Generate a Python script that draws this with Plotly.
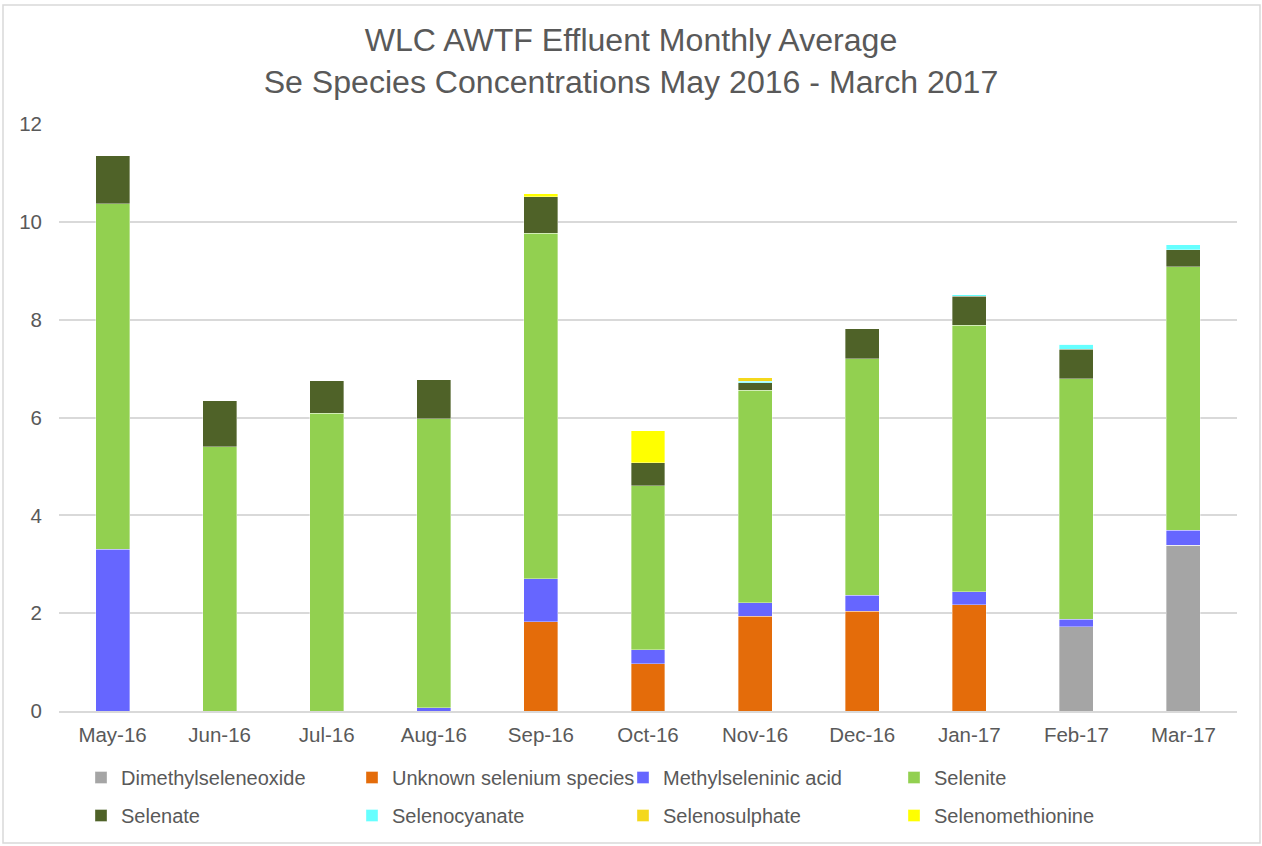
import plotly.graph_objects as go

months = ["May-16", "Jun-16", "Jul-16", "Aug-16", "Sep-16", "Oct-16",
          "Nov-16", "Dec-16", "Jan-17", "Feb-17", "Mar-17"]

dimethylseleneoxide = [0, 0, 0, 0, 0, 0, 0, 0, 0, 1.72, 3.39]
unknown_species     = [0, 0, 0, 0, 1.82, 0.97, 1.94, 2.04, 2.17, 0, 0]
methylseleninic     = [3.31, 0, 0, 0.07, 0.88, 0.28, 0.27, 0.33, 0.27, 0.16, 0.31]
selenite            = [7.06, 5.40, 6.09, 5.90, 7.07, 3.35, 4.35, 4.83, 5.45, 4.91, 5.38]
selenate            = [0.98, 0.94, 0.66, 0.80, 0.74, 0.47, 0.15, 0.61, 0.59, 0.61, 0.35]
selenocyanate       = [0, 0, 0, 0, 0, 0, 0.03, 0, 0.03, 0.10, 0.10]
selenosulphate      = [0, 0, 0, 0, 0, 0, 0.07, 0, 0, 0, 0]
selenomethionine    = [0, 0, 0, 0, 0.06, 0.66, 0, 0, 0, 0, 0]

series = [
    ("Dimethylseleneoxide", dimethylseleneoxide, "#A5A5A5", "legend"),
    ("Unknown selenium species", unknown_species, "#E46C0A", "legend"),
    ("Methylseleninic acid", methylseleninic, "#6666FF", "legend"),
    ("Selenite", selenite, "#92D050", "legend"),
    ("Selenate", selenate, "#4F6228", "legend2"),
    ("Selenocyanate", selenocyanate, "#66FFFF", "legend2"),
    ("Selenosulphate", selenosulphate, "#F4D81C", "legend2"),
    ("Selenomethionine", selenomethionine, "#FFFF00", "legend2"),
]

fig = go.Figure()
for name, vals, color, leg in series:
    fig.add_trace(go.Bar(
        x=months, y=vals, name=name, legend=leg,
        marker=dict(color=color, line=dict(color="rgba(255,255,255,0.6)", width=0.6)),
    ))

L, R, T, B = 59, 25, 124, 135
W, H = 1262, 846
pw, ph = W - L - R, H - T - B
FONT = "Liberation Sans, Arial, sans-serif"


def legend_cfg(top_px):
    return dict(
        orientation="h", traceorder="normal",
        x=(81 - L) / pw, xanchor="left",
        y=-(top_px - (H - B)) / ph, yanchor="top",
        entrywidth=226, entrywidthmode="pixels",
        font=dict(family=FONT, size=20, color="#595959"),
        itemwidth=30, bgcolor="rgba(0,0,0,0)",
    )


fig.update_layout(
    width=W, height=H,
    barmode="stack",
    bargap=0.683,
    plot_bgcolor="white",
    paper_bgcolor="white",
    margin=dict(l=L, r=R, t=T, b=B, autoexpand=False),
    font=dict(family=FONT, color="#595959", size=20),
    title=dict(
        text="WLC AWTF Effluent Monthly Average<br>Se Species Concentrations May 2016 - March 2017",
        x=0.5, xanchor="center", xref="container",
        y=1 - 51 / H, yanchor="middle", yref="container",
        font=dict(family=FONT, size=32.1, color="#595959"),
    ),
    xaxis=dict(
        showgrid=False, showline=True, linecolor="#D9D9D9", linewidth=1.5,
        ticks="", ticklabelstandoff=5, tickfont=dict(size=20.5, color="#595959"),
    ),
    yaxis=dict(
        range=[0, 12], dtick=2, showgrid=True, gridcolor="#D9D9D9", gridwidth=1.5,
        zeroline=False, showline=False, ticks="", ticklabelstandoff=16,
        tickfont=dict(size=20.5, color="#595959"),
    ),
    legend=legend_cfg(758),
    legend2=legend_cfg(796),
    showlegend=True,
)

fig.add_shape(
    type="rect", xref="paper", yref="paper",
    x0=(3 - L) / pw, x1=(1260 - L) / pw,
    y0=((H - B) - 843) / ph, y1=((H - B) - 5) / ph,
    line=dict(color="#D9D9D9", width=1.5), fillcolor="rgba(0,0,0,0)", layer="below",
)

fig.write_html(
    "out.html",
    config={"displayModeBar": False},
    post_script="document.body.style.margin='0';document.body.style.overflow='hidden';",
)
